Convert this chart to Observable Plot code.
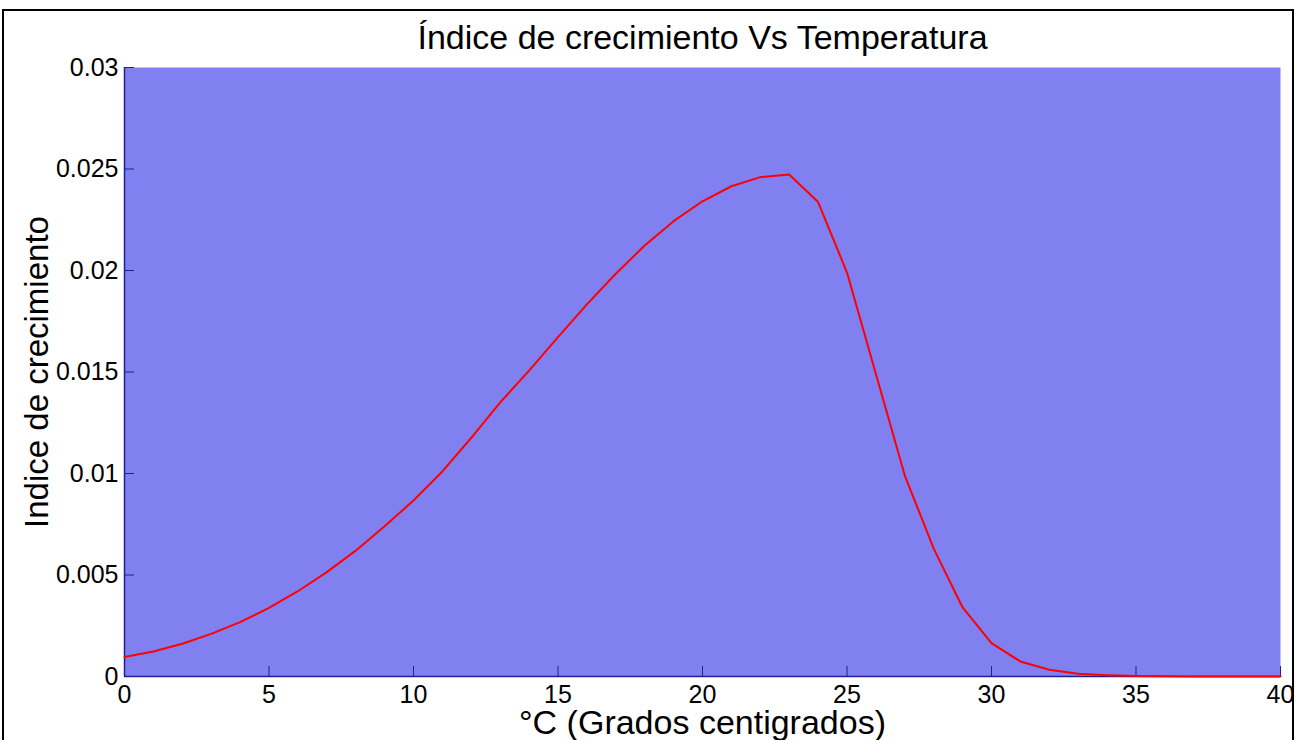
<!DOCTYPE html>
<html>
<head>
<meta charset="utf-8">
<script src="https://cdn.jsdelivr.net/npm/d3@7"></script>
<script src="https://cdn.jsdelivr.net/npm/@observablehq/plot@0.6"></script>
<style>
  html, body { margin: 0; padding: 0; background: #fff; overflow: hidden; }
  #wrap { position: relative; width: 1301px; height: 740px; overflow: hidden; }
  #border { position: absolute; left: 2px; top: 9px; width: 1292px; height: 800px;
            border: 2px solid #000; box-sizing: border-box; pointer-events: none; }
</style>
</head>
<body>
<div id="wrap"><div id="border"></div></div>
<script>
// Growth index versus temperature (°C), one value per degree
const temperatura = [0, 1, 2, 3, 4, 5, 6, 7, 8, 9, 10, 11, 12, 13, 14, 15, 16, 17, 18, 19, 20,
  21, 22, 23, 24, 25, 26, 27, 28, 29, 30, 31, 32, 33, 34, 35, 36, 37, 38, 39, 40];
const indice = [0.00096, 0.00123, 0.00161, 0.0021, 0.00268, 0.00338, 0.0042, 0.00514, 0.0062, 0.0074,
  0.00867, 0.0101, 0.01176, 0.0135, 0.01507, 0.01672, 0.01833, 0.01984, 0.02123, 0.02243, 0.02341,
  0.02415, 0.0246, 0.02473, 0.02337, 0.0199, 0.0149, 0.0099, 0.0063, 0.0034, 0.00164,
  0.00074, 0.00033, 0.00013, 0.00006, 0.00002, 0.00001, 0, 0, 0, 0];

const xTicks = [0, 5, 10, 15, 20, 25, 30, 35, 40];
const xTickLabels = ["0", "5", "10", "15", "20", "25", "30", "35", "40"];
const yTicks = [0, 0.005, 0.01, 0.015, 0.02, 0.025, 0.03];
const yTickLabels = ["0", "0.005", "0.01", "0.015", "0.02", "0.025", "0.03"];

const titulo = "Índice de crecimiento Vs Temperatura";
const etiquetaX = "°C (Grados centigrados)";
const etiquetaY = "Indice de crecimiento";

const datos = temperatura.map((t, i) => ({t, v: indice[i]}));
const axisColor = "#1f1f96";
const font = "'Liberation Sans', Arial, Helvetica, sans-serif";

const chart = Plot.plot({
  width: 1301,
  height: 740,
  marginLeft: 124,
  marginRight: 21,
  marginTop: 67,
  marginBottom: 64,
  style: {background: "transparent", fontFamily: font, fontSize: "25px", color: "#000"},
  x: {domain: [0, 40]},
  y: {domain: [0, 0.03]},
  marks: [
    Plot.frame({fill: "#8080f0", stroke: "none"}),
    // inward ticks
    Plot.axisX({ticks: xTicks, tickSize: 10, dy: -10, stroke: axisColor, tickFormat: () => "", label: null}),
    Plot.axisY({ticks: yTicks, tickSize: 10, dx: 10, stroke: axisColor, tickFormat: () => "", label: null}),
    // tick labels
    Plot.axisX({ticks: xTicks, tickSize: 0, tickPadding: 9, fontSize: 25, fill: "#000",
      tickFormat: (d) => xTickLabels[xTicks.indexOf(d)], label: null}),
    Plot.axisY({ticks: yTicks, tickSize: 0, tickPadding: 6, fontSize: 25, fill: "#000",
      tickFormat: (d) => yTickLabels[yTicks.indexOf(d)], label: null}),
    Plot.ruleY([0], {stroke: axisColor, strokeWidth: 1.5}),
    Plot.ruleX([0], {stroke: axisColor, strokeWidth: 1.5}),
    Plot.line(datos, {x: "t", y: "v", stroke: "#ff0000", strokeWidth: 2}),
    // title and axis labels
    Plot.text([titulo], {frameAnchor: "top", dy: -19, lineAnchor: "bottom", fontSize: 34, fill: "#000"}),
    Plot.text([etiquetaX], {frameAnchor: "bottom", dy: 57, lineAnchor: "bottom", fontSize: 34, fill: "#000"}),
    Plot.text([etiquetaY], {frameAnchor: "left", dx: -77, rotate: -90, textAnchor: "middle",
      lineAnchor: "bottom", fontSize: 33, fill: "#000"})
  ]
});

document.getElementById("wrap").prepend(chart);
</script>
</body>
</html>
